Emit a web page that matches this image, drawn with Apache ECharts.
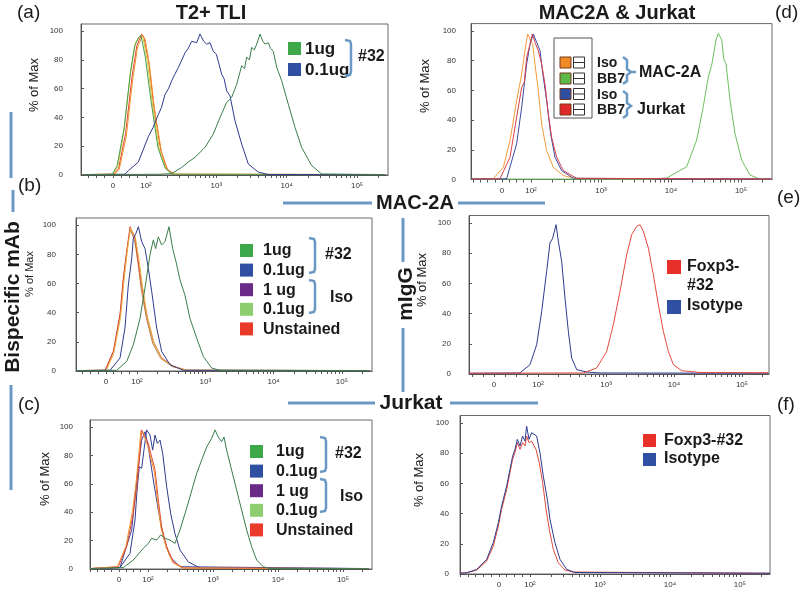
<!DOCTYPE html>
<html><head><meta charset="utf-8">
<script src="https://cdn.jsdelivr.net/npm/echarts@6/dist/echarts.min.js"></script>
<style>html,body{margin:0;padding:0;background:#fff}#c{width:800px;height:590px}</style>
</head><body><div id="c"></div>
<script>
// ---- DATA: x = log10 fluorescence (display decades: 2 -> 10^2), y = % of Max ----
const tickLabels = ['0', '10²', '10³', '10⁴', '10⁵'];
const decades = [2, 3, 4, 5];
const yTicks = [0, 20, 40, 60, 80, 100];

// (a) T2+ TLI
const aLegend = ['1ug', '0.1ug'];
const aUnstained = [[1.10,0.3],[1.54,0.5],[1.61,4.5],[1.71,29],[1.80,68],[1.87,90],[1.94,98],[1.97,96],[2.04,78],[2.11,48],[2.21,17],[2.30,4],[2.40,0.5],[5.40,0.3]];
const aIsoLow = [[1.10,0.3],[1.53,0.5],[1.60,6],[1.69,32],[1.78,71],[1.85,92],[1.92,97],[1.96,95],[2.02,79],[2.09,50],[2.19,18],[2.28,4.5],[2.38,0.5],[5.40,0.3]];
const aIsoHigh = [[1.10,0.3],[1.55,0.5],[1.62,4],[1.72,27],[1.81,66],[1.88,89],[1.95,97],[1.99,94],[2.05,76],[2.12,46],[2.22,16],[2.31,3.5],[2.41,0.5],[5.40,0.3]];
const aIsoDark = [[1.10,0.3],[1.52,0.5],[1.59,6.5],[1.69,33],[1.78,72],[1.84,90],[1.90,96],[1.93,97],[1.99,82],[2.07,52],[2.17,19],[2.27,5],[2.37,0.5],[5.40,0.3]];
const a01ug = [[1.10,0.2],[1.70,0.5],[1.749,3],[1.891,9],[2.033,26.6],[2.10,33],[2.175,42],[2.22,47],[2.27,56],[2.32,60],[2.365,65.5],[2.41,70],[2.46,74.8],[2.51,80],[2.555,85],[2.60,88],[2.649,93],[2.72,92],[2.768,98],[2.82,93],[2.863,91],[2.91,92],[2.957,86],[3.0,84],[3.028,79],[3.076,70],[3.11,67],[3.147,58.5],[3.194,55],[3.265,37.7],[3.36,21.5],[3.455,7.6],[3.597,2],[3.739,0.3],[5.40,0.2]];
const a1ug = [[1.10,0.3],[2.2,0.5],[2.365,1],[2.507,5.3],[2.60,9],[2.697,12.3],[2.839,19.2],[2.957,28.5],[3.052,40],[3.147,50.5],[3.218,54],[3.289,63],[3.36,76],[3.40,74],[3.431,82],[3.47,80],[3.502,88.7],[3.54,87],[3.574,91],[3.621,98],[3.66,93],[3.692,91],[3.739,92],[3.77,88],[3.810,86],[3.858,74.8],[3.929,65.5],[4.024,49],[4.119,33],[4.214,19],[4.356,6.5],[4.498,0.7],[5.40,0.3]];

// (b) MAC-2A, bispecific mAb
const bLegend = ['1ug', '0.1ug', '1 ug', '0.1ug', 'Unstained'];
const bUnstained = [[1.11,0.3],[1.532,0.5],[1.653,13.5],[1.751,38.6],[1.80,63.7],[1.849,82],[1.898,99],[1.971,91],[2.02,75],[2.068,59],[2.142,38.6],[2.239,20.3],[2.361,9],[2.532,3.2],[2.727,0.5],[5.40,0.3]];
const bIsoLow = [[1.11,0.3],[1.55,0.5],[1.66,12],[1.76,37],[1.81,62],[1.86,83],[1.905,98],[1.975,92],[2.03,76],[2.08,58],[2.15,37],[2.25,19],[2.37,8],[2.54,3],[2.74,0.5],[5.40,0.3]];
const bIsoHigh = [[1.11,0.3],[1.54,0.5],[1.66,14],[1.755,40],[1.805,65],[1.855,84],[1.90,97],[1.965,90],[2.015,74],[2.06,57],[2.135,37],[2.23,19],[2.35,8.5],[2.52,3],[2.72,0.5],[5.40,0.3]];
const b01ug = [[1.11,0.3],[1.605,0.5],[1.751,8.9],[1.824,29.5],[1.873,59],[1.922,77],[1.946,91],[1.985,94.5],[2.02,99],[2.068,88.8],[2.117,84],[2.166,70.5],[2.215,54.6],[2.288,29.5],[2.361,13.5],[2.483,4.3],[2.678,0.5],[5.40,0.3]];
const b1ug = [[1.11,0.3],[1.703,0.5],[1.849,6.6],[1.946,18],[2.044,36],[2.117,57],[2.19,79.7],[2.239,90],[2.273,84],[2.312,92],[2.361,86.5],[2.41,88.8],[2.468,99],[2.522,84],[2.571,75],[2.629,62.6],[2.702,52],[2.776,36],[2.873,22.6],[2.971,10],[3.093,2],[3.215,0.5],[5.40,0.3]];

// (c) Jurkat, bispecific mAb
const cLegend = ['1ug', '0.1ug', '1 ug', '0.1ug', 'Unstained'];
const cUnstained = [[1.11,0.3],[1.543,1.6],[1.672,15.7],[1.774,39],[1.826,58],[1.866,76.8],[1.903,98],[1.954,93],[2.005,88.5],[2.056,79],[2.108,70],[2.159,48.6],[2.21,29.8],[2.287,15.7],[2.39,5],[2.544,0.7],[5.40,0.3]];
const cIsoLow = [[1.11,0.3],[1.53,1.6],[1.66,16],[1.76,40],[1.815,60],[1.855,79],[1.89,97],[1.94,94],[1.995,87],[2.045,78],[2.10,68],[2.15,47],[2.20,29],[2.28,15],[2.38,4.5],[2.53,0.7],[5.40,0.3]];
const c01ug = [[1.11,0.3],[1.569,1],[1.723,11],[1.80,34.5],[1.836,58],[1.866,72],[1.903,71],[1.944,86],[1.979,98],[2.031,94.4],[2.072,83.8],[2.108,94.4],[2.144,88.5],[2.185,90.8],[2.226,81.5],[2.287,58],[2.349,39],[2.415,25],[2.492,13.4],[2.62,5],[2.8,0.7],[5.40,0.3]];
const cIsoHigh = [[1.11,0.3],[1.569,1],[1.749,27.5],[1.80,51],[1.851,72],[1.903,90.8],[1.954,96.7],[2.005,86],[2.082,62.7],[2.159,41.5],[2.236,22.7],[2.338,8.7],[2.492,1.6],[5.40,0.3]];
const c1ug = [[1.11,0.3],[1.62,1],[1.774,6.3],[1.928,14.6],[2.005,18],[2.056,21.6],[2.133,20.4],[2.195,24],[2.262,21.6],[2.338,20.4],[2.415,18],[2.492,27.5],[2.569,39],[2.646,51],[2.749,67.4],[2.826,76.8],[2.903,86],[2.979,92],[3.031,98],[3.082,93],[3.133,89.7],[3.169,93],[3.21,83.8],[3.287,69.7],[3.364,55.6],[3.441,41.5],[3.518,27.5],[3.595,15.7],[3.672,6.3],[3.774,1.6],[3.877,0.3],[5.40,0.3]];

// (d) MAC2A & Jurkat, BB7
const dLegend = ['Iso', 'BB7', 'Iso', 'BB7'];
const dGroups = ['MAC-2A', 'Jurkat'];
const dIsoMac = [[1.15,0.6],[1.462,0.6],[1.605,8.2],[1.70,26],[1.795,53],[1.867,71],[1.914,86.7],[1.952,98],[1.986,94.6],[2.024,91],[2.057,77.8],[2.105,59.8],[2.152,37.4],[2.224,19.4],[2.319,8.2],[2.462,2.6],[2.652,0.6],[5.44,0.6]];
const dBB7Jur = [[1.15,0.3],[1.557,0.5],[1.70,15],[1.795,42],[1.867,62],[1.905,65.5],[1.938,82.3],[1.986,91],[2.019,98],[2.057,92.4],[2.105,86.7],[2.152,77.8],[2.2,64.3],[2.248,44],[2.295,28.4],[2.367,15],[2.462,6],[2.652,0.8],[5.44,0.3]];
const dIsoJur = [[1.15,0.3],[1.652,0.5],[1.795,24],[1.867,48.6],[1.938,77.8],[1.986,91],[2.033,98],[2.081,92.4],[2.129,86.7],[2.176,68.8],[2.224,53],[2.281,30.6],[2.343,15],[2.438,6],[2.605,0.8],[5.44,0.3]];
const dBB7Mac = [[1.15,0.3],[3.70,0.3],[3.939,1],[4.224,8.6],[4.367,26.6],[4.461,49],[4.533,69],[4.581,77],[4.604,78],[4.643,94],[4.676,98.5],[4.724,94],[4.757,80.5],[4.786,78],[4.843,53.5],[4.914,31],[5.01,13],[5.129,3],[5.271,0.3],[5.44,0.3]];

// (e) MAC-2A, mIgG
const eLegend = ['Foxp3-\n#32', 'Isotype'];
const eIso = [[0.99,0.5],[1.735,0.7],[1.882,6.2],[1.98,19.4],[2.054,41.5],[2.127,68],[2.176,86.8],[2.216,90],[2.265,98.9],[2.299,87.9],[2.348,74.6],[2.397,50.3],[2.446,28.3],[2.495,10.6],[2.569,2.9],[2.716,1.3],[2.912,0.7],[5.39,0.5]];
const eFoxp3 = [[0.99,0.5],[2.667,0.7],[2.863,4],[3.01,15],[3.108,32.7],[3.206,54.8],[3.304,79],[3.377,92.3],[3.451,97.8],[3.5,98.9],[3.549,94.5],[3.623,83.4],[3.696,65.8],[3.77,45.9],[3.843,28.3],[3.917,15],[3.99,6.2],[4.113,2.2],[4.382,1],[5.39,0.8]];

// (f) Jurkat, mIgG
const fLegend = ['Foxp3-#32', 'Isotype'];
const fIso = [[1.0,0.5],[1.095,0.8],[1.238,3],[1.381,9.7],[1.476,20.8],[1.548,34],[1.595,45],[1.667,58.3],[1.714,69.3],[1.752,78],[1.786,82.6],[1.819,89.2],[1.857,84.8],[1.895,91.4],[1.929,88],[1.952,98],[1.986,89.2],[2.024,93.6],[2.095,91.4],[2.143,80.3],[2.19,64.9],[2.248,49.5],[2.286,36.2],[2.357,20.7],[2.429,9.7],[2.524,3.1],[2.643,1],[5.43,0.5]];
const fFoxp3 = [[1.0,0.5],[1.095,0.8],[1.238,2.6],[1.381,8.6],[1.476,18.5],[1.548,31.8],[1.595,42.8],[1.667,56],[1.714,67],[1.752,76],[1.786,80.4],[1.819,87],[1.857,82.6],[1.895,87],[1.929,84.8],[1.952,91.4],[1.986,87],[2.024,88],[2.086,82.6],[2.133,73.7],[2.181,60.5],[2.229,43],[2.276,29.6],[2.333,16.4],[2.405,7.5],[2.5,2.6],[2.619,1.3],[5.43,0.5]];

// ---- LAYOUT ----
const FONT = '"Liberation Sans", Arial, sans-serif';
const panels = [
  {left:81,  top:24,    width:307, height:151,   min:1.076, max:5.44,  zero:1.53},
  {left:76,  top:218,   width:296, height:153,   min:1.107, max:5.44,  zero:1.546},
  {left:90,  top:420,   width:282, height:149,   min:1.108, max:5.446, zero:1.554},
  {left:471, top:23.6,  width:301, height:155.9, min:1.143, max:5.443, zero:1.586},
  {left:469, top:215.5, width:300, height:158.5, min:0.985, max:5.397, zero:1.353},
  {left:460, top:415.5, width:310, height:158.5, min:1.0,   max:5.43,  zero:1.557}
];
const labelMargin = [18, 20, 17, 15, 18, 11];

function minorTicks(p) {
  const out = [];
  const step = (2 - p.zero) / 4;
  for (let v = 2 - step; v > p.min; v -= step) out.push(v);
  for (let n = 2; n <= 5; n++) {
    for (let k = 1; k <= 9; k++) {
      const v = n + Math.log10(k);
      if (v < p.max) out.push(v);
    }
  }
  return out;
}

const grid = [], xAxis = [], yAxis = [];
panels.forEach((p, i) => {
  grid.push({left:p.left, top:p.top, width:p.width, height:p.height, show:true, borderColor:'#6b6b6b', borderWidth:1, backgroundColor:'#fff'});
  const labelVals = [p.zero].concat(decades);
  xAxis.push({
    type:'value', gridIndex:i, min:p.min, max:p.max,
    axisLine:{show:true, onZero:false, lineStyle:{color:'#555', width:1}},
    axisTick:{show:true, customValues:minorTicks(p), length:3, lineStyle:{color:'#555'}},
    axisLabel:{customValues:labelVals, fontSize:8, color:'#333', margin:7, fontFamily:FONT,
      formatter:(v) => { const j = labelVals.findIndex(t => Math.abs(t - v) < 1e-6); return j >= 0 ? tickLabels[j] : ''; }},
    splitLine:{show:false}
  });
  yAxis.push({
    type:'value', gridIndex:i, min:0, max:105,
    axisLine:{show:true, lineStyle:{color:'#555', width:1}},
    axisTick:{show:true, customValues:yTicks, inside:true, length:3, lineStyle:{color:'#555'}},
    axisLabel:{customValues:yTicks, fontSize:8, color:'#333', margin:labelMargin[i], fontFamily:FONT},
    splitLine:{show:false}
  });
});

function ln(name, data, color, idx, w) {
  return {type:'line', name, data, xAxisIndex:idx, yAxisIndex:idx, showSymbol:false, symbol:'none',
    lineStyle:{color, width:w || 1}, itemStyle:{color}, animation:false, silent:true};
}
const NAVY = '#2e3b8e', DGREEN = '#3a7d4a', RED = '#e2443a', ORANGE = '#f0922e', YELLOW = '#d6cd3a';
const series = [
  ln('Unstained', aUnstained, RED, 0), ln('Iso 0.1ug', aIsoLow, YELLOW, 0), ln('Iso 1ug', aIsoHigh, ORANGE, 0), ln('Iso', aIsoDark, '#4a9a50', 0),
  ln('0.1ug', a01ug, NAVY, 0), ln('1ug', a1ug, DGREEN, 0),
  ln('Iso 1 ug', bIsoHigh, '#b08040', 1), ln('Unstained', bUnstained, RED, 1), ln('Iso 0.1ug', bIsoLow, '#e8b040', 1),
  ln('0.1ug', b01ug, NAVY, 1), ln('1ug', b1ug, DGREEN, 1),
  ln('Iso 1 ug', cIsoHigh, '#3a3f9a', 2), ln('0.1ug', c01ug, NAVY, 2), ln('Unstained', cUnstained, RED, 2), ln('Iso 0.1ug', cIsoLow, ORANGE, 2),
  ln('1ug', c1ug, DGREEN, 2),
  ln('Iso MAC-2A', dIsoMac, '#f39a3a', 3), ln('BB7 MAC-2A', dBB7Mac, '#6cbf5c', 3), ln('Iso Jurkat', dIsoJur, '#3d4aa3', 3), ln('BB7 Jurkat', dBB7Jur, '#d8404c', 3),
  ln('Isotype', eIso, NAVY, 4), ln('Foxp3-#32', eFoxp3, '#e4473d', 4),
  ln('Foxp3-#32', fFoxp3, '#e04a3a', 5), ln('Isotype', fIso, NAVY, 5)
];

// ---- GRAPHIC (titles, labels, legends, decorations) ----
const G = [];
const BL = '#6a98c4';
function txt(x, y, s, size, bold, opts) {
  G.push(Object.assign({type:'text', x, y, z:100, style:{text:s, fontSize:size, fontWeight:bold ? 'bold' : 'normal', fontFamily:FONT,
    fill:'#1a1a1a', textAlign:'left', textVerticalAlign:'middle'}}, opts || {}));
}
function txtC(x, y, s, size, bold, rot) {
  G.push({type:'text', x, y, z:100, rotation:rot || 0, style:{text:s, fontSize:size, fontWeight:bold ? 'bold' : 'normal', fontFamily:FONT,
    fill:'#1a1a1a', textAlign:'center', textVerticalAlign:'middle'}});
}
function seg(x1, y1, x2, y2, w, c) {
  G.push({type:'line', z:100, shape:{x1, y1, x2, y2}, style:{stroke:c || BL, lineWidth:w || 3}});
}
function sq(x, y, s, c, stroke) {
  G.push({type:'rect', z:100, shape:{x, y, width:s, height:s}, style:{fill:c, stroke:stroke || null, lineWidth:1}});
}
function bracket(x, y1, y2) {
  G.push({type:'polyline', z:100, shape:{points:[[x - 6, y1], [x - 1, y1 + 1], [x, y1 + 4], [x, y2 - 4], [x - 1, y2 - 1], [x - 6, y2]]},
    style:{stroke:BL, lineWidth:2.5, fill:null}});
}
function brace(x, y1, ym, y2, tail) {
  G.push({type:'polyline', z:100, shape:{points:[[x - 4, y1], [x, y1 + 3], [x, ym - 3], [x + 4, ym], [x, ym + 3], [x, y2 - 3], [x - 4, y2]]},
    style:{stroke:BL, lineWidth:2.5, fill:null}});
  if (tail) seg(x + 4, ym, x + 9, ym, 2.5);
}

// panel letters and titles
txt(17, 13, '(a)', 19, false);
txt(18, 186, '(b)', 19, false);
txt(18, 405, '(c)', 19, false);
txt(775, 13, '(d)', 19, false);
txt(777, 198, '(e)', 19, false);
txt(777, 405, '(f)', 19, false);
txtC(211, 13, 'T2+ TLI', 20, true);
txtC(617, 13, 'MAC2A & Jurkat', 20, true);

// y-axis names
const yNames = [[34, 85, 13], [30, 274, 11], [45, 479, 13], [425, 86, 13], [422, 280, 13], [419, 480, 13]];
yNames.forEach(n => txtC(n[0], n[1], '% of Max', n[2], false, Math.PI / 2));

// row / column labels with blue rules
txtC(13, 297, 'Bispecific mAb', 21, true, Math.PI / 2);
seg(11, 112, 11, 178); seg(13, 190, 13, 212); seg(11, 385, 11, 490);
txtC(415, 203, 'MAC-2A', 20, true);
seg(283, 203, 372, 203); seg(458, 203, 545, 203);
txtC(406, 294, 'mIgG', 21, true, Math.PI / 2);
seg(403, 218, 403, 262); seg(403, 328, 403, 392);
txtC(411, 403, 'Jurkat', 21, true);
seg(288, 403, 375, 403); seg(450, 403, 538, 403);

// legend (a)
const aCol = ['#3ca84a', '#2f4fa3'];
aLegend.forEach((s, i) => { sq(288, 42 + i * 21, 13, aCol[i]); txt(305, 49 + i * 21, s, 17, true); });
bracket(351, 40, 76); txt(358, 57, '#32', 16, true);

// legend (b)
const bcCol = ['#3ca84a', '#2f4fa3', '#6a2a88', '#8fce6e', '#ea3a2a'];
bLegend.forEach((s, i) => { sq(240, 244 + i * 19.6, 13, bcCol[i]); txt(263, 251 + i * 19.6, s, 16, true); });
bracket(315, 238, 273); txt(325, 255, '#32', 16, true);
bracket(315, 280, 313); txt(330, 298, 'Iso', 16, true);

// legend (c)
cLegend.forEach((s, i) => { sq(250, 445 + i * 19.6, 13, bcCol[i]); txt(276, 452 + i * 19.6, s, 16, true); });
bracket(326, 437, 472); txt(335, 454, '#32', 16, true);
bracket(326, 479, 512); txt(340, 497, 'Iso', 16, true);

// legend (d)
G.push({type:'rect', z:99, shape:{x:554, y:38, width:38, height:80}, style:{fill:'#fff', stroke:'#555', lineWidth:1}});
const dCol = ['#f08a24', '#5cba4a', '#2f4fa3', '#e02a2a'];
const dRows = [62.5, 78.5, 94, 109.5];
dLegend.forEach((s, i) => {
  sq(560, dRows[i] - 5.5, 11, dCol[i], '#7a3a1a');
  sq(573.5, dRows[i] - 5.5, 11, '#fff', '#333');
  seg(574, dRows[i], 584, dRows[i], 1, '#333');
  txt(597, dRows[i] + 1, s, 14, true);
});
brace(627, 57, 72, 84, true); txt(639, 73, dGroups[0], 16, true);
brace(627, 91, 106, 118, false); txt(637, 110, dGroups[1], 16, true);

// legend (e)
sq(667, 260, 14, '#e8302a'); txt(687, 267, 'Foxp3-', 16, true); txt(687, 286, '#32', 16, true);
sq(667, 300, 14, '#2f4fa3'); txt(687, 306, eLegend[1], 16, true);

// legend (f)
const fCol = ['#e8302a', '#2f4fa3'];
fLegend.forEach((s, i) => { sq(643, 434 + i * 19, 13, fCol[i]); txt(664, 441 + i * 18, s, 16, true); });

const chart = echarts.init(document.getElementById('c'), null, {renderer:'canvas'});
chart.setOption({animation:false, backgroundColor:'#fff', grid, xAxis, yAxis, series, graphic:{elements:G}});
</script>
</body></html>
